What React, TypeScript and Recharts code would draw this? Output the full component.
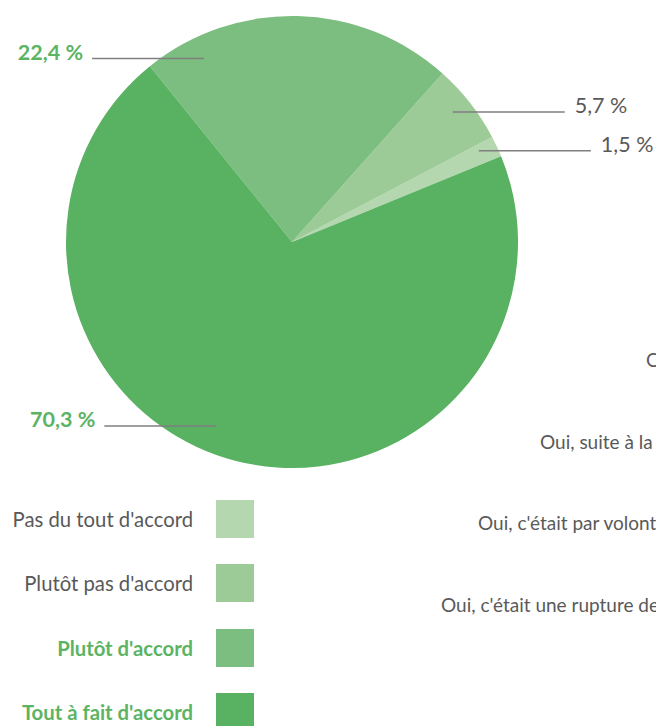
import { Cell, Legend, Pie, PieChart } from "recharts";

// Agreement shares, in legend order (counter-clockwise from the small slice)
const CATEGORIES = [
  "Pas du tout d'accord",
  "Plutôt pas d'accord",
  "Plutôt d'accord",
  "Tout à fait d'accord",
];
const SHARES = [1.5, 5.7, 22.4, 70.3];
const COLORS = ["#b4d7b0", "#9dcb98", "#7cbe7f", "#59b162"];
const HIGHLIGHTED = [false, false, true, true];

// Text of a neighbouring chart that spills in from the right
const SPILL_TEXT = ["C", "Oui, suite à la", "Oui, c'était par volont", "Oui, c'était une rupture de"];

const FONT = "Lato, 'Open Sans', sans-serif";
const GREEN = "#5bb463";
const GREY = "#595959";
const RAD = Math.PI / 180;

// Excel-style dragged labels: angle nudge from mid-angle and radius ratio
const LABEL_NUDGE = [
  { da: 1, rr: 0.92 },
  { da: 1, rr: 0.915 },
  { da: 27, rr: 0.9 },
  { da: -8, rr: 0.88 },
];

const fmt = (v: number) => `${v.toFixed(1).replace(".", ",")} %`;

function SliceLabel(props: any) {
  const { cx, cy, midAngle, outerRadius, index, value } = props;
  const n = LABEL_NUDGE[index];
  const a = (midAngle + n.da) * RAD;
  const x0 = cx + outerRadius * n.rr * Math.cos(a);
  const y0 = cy - outerRadius * n.rr * Math.sin(a);
  const right = Math.cos(a) > 0;
  const x1 = right ? x0 + 112 : x0 - 112;
  const hi = HIGHLIGHTED[index];
  return (
    <g>
      <line x1={x0} y1={y0} x2={x1} y2={y0} stroke="#7f7f7f" strokeWidth={1.5} />
      <text
        x={right ? x1 + 10 : x1 - 9}
        y={y0 + 1}
        textAnchor={right ? "start" : "end"}
        fill={hi ? GREEN : GREY}
        fontWeight={hi ? 700 : 400}
        fontSize={21.5}
        fontFamily={FONT}
      >
        {fmt(value)}
      </text>
    </g>
  );
}

function AgreementLegend() {
  return (
    <div style={{ position: "relative", width: 260, height: 236 }}>
      {CATEGORIES.map((c, i) => (
        <div
          key={c}
          style={{
            position: "absolute",
            left: 0,
            top: Math.round(i * 64.4),
            width: 254,
            height: 38,
            display: "flex",
            alignItems: "center",
            justifyContent: "flex-end",
          }}
        >
          <span
            style={{
              fontFamily: FONT,
              fontSize: 20.3,
              whiteSpace: "nowrap",
              color: HIGHLIGHTED[i] ? GREEN : GREY,
              fontWeight: HIGHLIGHTED[i] ? 700 : 400,
            }}
          >
            {c}
          </span>
          <span style={{ width: 38, height: 38, marginLeft: 23, background: COLORS[i], flexShrink: 0 }} />
        </div>
      ))}
    </div>
  );
}

const data = CATEGORIES.map((name, i) => ({ name, value: SHARES[i] }));

export default function App() {
  const spill = [
    { x: 646, y: 360 },
    { x: 540, y: 442 },
    { x: 478, y: 523 },
    { x: 441, y: 605 },
  ];
  return (
    <div
      style={{
        position: "absolute",
        left: 0,
        top: 0,
        width: 656,
        height: 726,
        overflow: "hidden",
        background: "#fff",
      }}
    >
      <PieChart width={656} height={726} margin={{ top: 0, right: 0, bottom: 0, left: 0 }}>
        <Pie
          data={data}
          dataKey="value"
          nameKey="name"
          cx={292}
          cy={242}
          outerRadius={226}
          startAngle={22.3}
          endAngle={382.3}
          stroke="none"
          isAnimationActive={false}
          label={SliceLabel}
          labelLine={false}
        >
          {data.map((d, i) => (
            <Cell key={d.name} fill={COLORS[i]} />
          ))}
        </Pie>
        <Legend
          content={() => <AgreementLegend />}
          wrapperStyle={{ position: "absolute", left: 0, top: 500, width: 260, height: 236 }}
        />
      </PieChart>
      {SPILL_TEXT.map((t, i) => (
        <span
          key={t}
          style={{
            position: "absolute",
            left: spill[i].x,
            top: spill[i].y - 12,
            lineHeight: "24px",
            fontFamily: FONT,
            fontSize: 19,
            color: GREY,
            whiteSpace: "nowrap",
          }}
        >
          {t}
        </span>
      ))}
    </div>
  );
}
